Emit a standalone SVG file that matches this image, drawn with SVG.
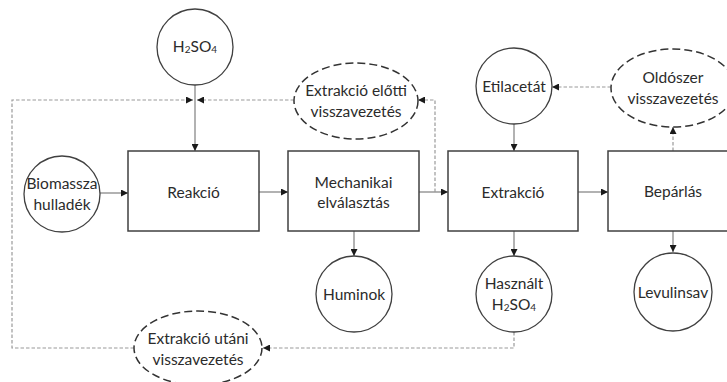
<svg xmlns="http://www.w3.org/2000/svg" width="727" height="382" viewBox="0 0 727 382">
<defs>
<marker id="ah" viewBox="0 0 10 10" refX="10" refY="5" markerWidth="7" markerHeight="7" markerUnits="userSpaceOnUse" orient="auto"><path d="M0,0 L10,5 L0,10 z" fill="#1a1a1a"/></marker>
</defs>
<style>
.box{fill:#fff;stroke:#404040;stroke-width:1.5}
.circ{fill:#fff;stroke:#404040;stroke-width:1.3}
.ell{fill:#fff;stroke:#333;stroke-width:1.5;stroke-dasharray:8,4}
.c{fill:none;stroke:#7f7f7f;stroke-width:1.2;marker-end:url(#ah)}
.da{fill:none;stroke:#9a9a9a;stroke-width:1.2;stroke-dasharray:3.5,2;marker-end:url(#ah)}
text{font-family:Lato,"Liberation Sans",sans-serif;font-size:15.5px;fill:#2b2b2b;text-anchor:middle;dominant-baseline:central}
.sub{font-size:10px}
</style>
<g id="connectors">
<path class="c" d="M195,85 V151"/>
<path class="c" d="M100,193 H128"/>
<path class="c" d="M259,192 H288"/>
<path class="c" d="M419,192 H448"/>
<path class="c" d="M578,192 H608"/>
<path class="c" d="M514,124 V151"/>
<path class="c" d="M354,231 V256"/>
<path class="c" d="M514,230 V256"/>
<path class="c" d="M673,230 V252"/>
<path class="da" d="M134,348 H12 V100 H193"/>
<path class="da" d="M294,100 H197"/>
<path class="da" d="M435,192 V100 H418"/>
<path class="da" d="M673,151 V127"/>
<path class="da" d="M611,87 H552"/>
<path class="da" d="M514,332 V348 H263"/>
</g>
<g id="n-h2so4"><circle class="circ" cx="195" cy="47" r="38"/><text x="195" y="46">H<tspan class="sub" dy="3">2</tspan><tspan dy="-3">SO</tspan><tspan class="sub" dy="3">4</tspan></text></g>
<g id="n-biomassza"><circle class="circ" cx="62" cy="194" r="38"/><text x="62" y="183">Biomassza</text><text x="62" y="204">hulladék</text></g>
<g id="n-reakcio"><rect class="box" x="128" y="151" width="131" height="80"/><text x="193.5" y="192">Reakció</text></g>
<g id="n-mech"><rect class="box" x="288" y="151" width="131" height="80"/><text x="353.5" y="182">Mechanikai</text><text x="353.5" y="202">elválasztás</text></g>
<g id="n-extr"><rect class="box" x="448" y="151" width="130" height="80"/><text x="513" y="192">Extrakció</text></g>
<g id="n-bep"><rect class="box" x="608" y="151" width="131" height="80"/><text x="673" y="191">Bepárlás</text></g>
<g id="n-etil"><circle class="circ" cx="514" cy="86" r="38"/><text x="514" y="86">Etilacetát</text></g>
<g id="n-humin"><circle class="circ" cx="354" cy="294" r="38"/><text x="354" y="294">Huminok</text></g>
<g id="n-hasznalt"><circle class="circ" cx="514" cy="294" r="38"/><text x="514" y="283">Használt</text><text x="514" y="304">H<tspan class="sub" dy="3">2</tspan><tspan dy="-3">SO</tspan><tspan class="sub" dy="3">4</tspan></text></g>
<g id="n-levulin"><circle class="circ" cx="673" cy="292" r="39"/><text x="673" y="292">Levulinsav</text></g>
<g id="n-eloetti"><ellipse class="ell" cx="356" cy="101" rx="62" ry="38"/><text x="356" y="90">Extrakció előtti</text><text x="356" y="111">visszavezetés</text></g>
<g id="n-oldoszer"><ellipse class="ell" cx="673" cy="88" rx="62" ry="39"/><text x="673" y="77">Oldószer</text><text x="673" y="98">visszavezetés</text></g>
<g id="n-utani"><ellipse class="ell" cx="198" cy="348" rx="64" ry="37"/><text x="198" y="338">Extrakció utáni</text><text x="198" y="359">visszavezetés</text></g>
</svg>
